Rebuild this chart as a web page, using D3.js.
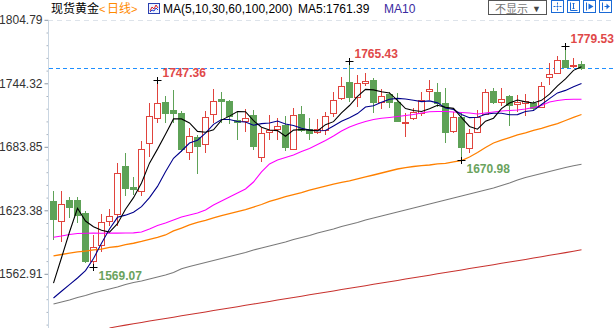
<!DOCTYPE html>
<html><head><meta charset="utf-8">
<script src="https://cdn.jsdelivr.net/npm/d3@7"></script>
<style>body{margin:0;background:#fff;overflow:hidden}svg{display:block}</style>
</head><body>
<svg id="c" width="615" height="328"></svg>
<script>
// ---- data (daily candles, left to right) ----
const openP = [1632.2,1613.5,1633.2,1633.2,1620.5,1575.4,1590.3,1613.2,1619.9,1665.6,1645.9,1642.2,1687.2,1711.0,1726.2,1718.9,1716.3,1678.6,1693.5,1686.5,1714.8,1729.1,1727.5,1709.8,1708.4,1714.1,1674.4,1697.7,1700.5,1704.6,1681.5,1715.1,1700.5,1697.7,1699.9,1715.7,1730.6,1745.3,1731.0,1744.3,1747.5,1726.2,1734.1,1726.8,1706.8,1711.0,1716.3,1737.0,1736.3,1725.9,1699.2,1711.9,1682.4,1697.7,1715.1,1737.0,1726.8,1732.2,1724.6,1725.9,1725.3,1722.0,1750.6,1754.4,1766.5,1760.8,1762.7];
const highP = [1641.8,1642.0,1636.3,1636.0,1623.0,1599.9,1620.3,1624.3,1668.1,1678.4,1655.1,1689.8,1725.9,1747.36,1732.2,1737.9,1717.9,1701.5,1695.1,1718.4,1738.6,1735.8,1728.4,1717.0,1719.6,1718.9,1701.5,1714.1,1711.0,1713.2,1720.5,1722.7,1711.0,1710.0,1717.3,1736.0,1750.6,1765.43,1752.2,1753.8,1749.1,1738.6,1736.0,1735.4,1715.7,1720.8,1736.3,1747.5,1744.9,1739.8,1717.3,1717.0,1700.5,1718.9,1738.6,1739.8,1739.8,1733.2,1733.2,1734.1,1727.5,1745.8,1763.4,1770.3,1779.53,1768.1,1765.6];
const lowP = [1596.0,1593.5,1617.3,1612.2,1574.1,1569.07,1583.7,1608.0,1608.4,1637.9,1638.9,1637.0,1674.4,1706.2,1707.7,1707.7,1680.3,1671.3,1659.2,1677.5,1706.2,1707.7,1706.2,1691.3,1698.2,1681.5,1669.7,1690.3,1690.3,1680.8,1680.8,1698.9,1691.3,1696.0,1695.1,1712.2,1728.4,1727.7,1722.0,1741.7,1716.7,1719.8,1721.5,1708.4,1693.5,1709.4,1713.2,1728.4,1722.7,1688.7,1696.7,1670.98,1678.2,1696.7,1714.1,1725.6,1722.7,1704.6,1717.3,1713.2,1720.3,1721.3,1742.7,1753.2,1759.8,1758.9,1758.4];
const closeP = [1615.4,1629.1,1626.8,1618.9,1575.4,1588.7,1611.8,1618.4,1658.6,1644.6,1643.6,1681.5,1713.2,1725.3,1715.7,1716.3,1681.5,1694.2,1684.9,1711.9,1727.8,1727.5,1713.2,1707.0,1711.0,1684.9,1696.7,1699.9,1703.9,1683.9,1714.1,1699.9,1696.7,1700.5,1713.5,1728.4,1741.8,1731.6,1744.3,1746.5,1726.2,1732.5,1726.2,1708.7,1707.7,1716.7,1728.4,1738.6,1725.3,1698.2,1711.9,1683.9,1696.7,1712.5,1736.3,1726.2,1729.1,1723.7,1726.5,1727.5,1721.1,1741.8,1752.9,1766.5,1760.3,1761.7,1758.6];

// moving averages whose first values depend on earlier (undrawn) days
const ma5Head = [1554.1,1578.2,1602.7,1625.3];
const ma10Head = [1539.9,1546.3,1552.6,1558.9,1565.9,1577.4,1592.0,1605.6,1616.7];
const ma30 = [1597.7,1598.9,1600.3,1601.3,1601.5,1601.6,1601.5,1601.7,1601.6,1601.8,1601.9,1602.7,1605.6,1608.9,1611.3,1614.1,1617.0,1618.9,1620.8,1623.7,1628.4,1632.2,1636.0,1639.9,1643.7,1650.3,1659.9,1667.5,1671.3,1673.7,1676.0,1679.4,1682.2,1686.0,1689.9,1694.1,1698.9,1702.7,1705.6,1707.9,1709.9,1711.0,1711.8,1712.7,1713.7,1714.6,1716.0,1717.3,1717.5,1717.5,1717.0,1716.5,1716.0,1715.1,1716.0,1717.0,1717.9,1718.4,1718.9,1719.9,1721.3,1723.2,1726.5,1727.9,1728.9,1729.1,1729.1];
const ma60 = [1579.9,1581.3,1582.7,1583.7,1584.6,1585.6,1586.5,1588.0,1588.9,1590.8,1592.0,1593.7,1595.6,1597.5,1599.9,1603.7,1606.5,1609.4,1611.8,1613.7,1616.1,1618.4,1620.3,1622.2,1624.1,1626.5,1628.9,1631.8,1634.1,1636.5,1638.4,1640.3,1642.7,1644.6,1646.5,1648.4,1649.9,1651.3,1653.2,1655.1,1657.0,1658.9,1660.8,1662.7,1664.1,1665.1,1666.0,1666.5,1667.5,1668.1,1669.4,1670.8,1674.1,1678.4,1683.2,1687.5,1690.3,1692.7,1695.1,1697.0,1699.4,1701.3,1703.7,1706.0,1708.9,1711.8,1714.6];
const ma100 = [1534.2,1536.1,1538.0,1540.3,1542.3,1544.6,1546.5,1548.4,1550.3,1552.7,1554.6,1556.1,1558.0,1559.9,1561.8,1564.2,1567.8,1569.9,1571.8,1573.7,1575.6,1577.5,1579.4,1581.3,1583.2,1585.6,1587.5,1589.4,1591.3,1593.2,1595.6,1597.5,1599.4,1601.8,1603.7,1605.6,1608.0,1609.9,1611.8,1614.1,1616.1,1618.0,1619.9,1621.8,1623.7,1625.6,1627.5,1629.4,1631.3,1633.2,1635.1,1637.0,1638.9,1640.8,1642.7,1644.6,1647.0,1649.4,1652.2,1654.6,1656.5,1658.4,1660.3,1662.2,1664.1,1665.8,1667.2];
const ma200 = [null,null,null,null,null,null,null,1511.3,1512.8,1514.0,1515.3,1516.6,1517.9,1519.1,1520.4,1521.6,1522.9,1524.1,1525.4,1526.6,1527.9,1529.1,1530.4,1531.6,1532.9,1534.1,1535.4,1536.6,1537.9,1539.1,1540.4,1541.6,1542.9,1544.1,1545.4,1546.6,1547.9,1549.1,1550.4,1551.6,1552.9,1554.1,1555.4,1556.6,1557.9,1559.1,1560.4,1561.6,1562.9,1564.1,1565.4,1566.6,1567.9,1569.1,1570.4,1571.6,1572.9,1574.1,1575.4,1576.6,1577.9,1579.2,1580.5,1581.8,1583.1,1584.4,1585.8];

const yTicks = [1562.91,1623.38,1683.85,1744.32,1804.79];
const highMarks = [13,37,64];
const lowMarks = [5,51];
const titleText = "现货黄金";
const periodText = "日线";
const maTitle = "MA(5,10,30,60,100,200)";
const ma5Label = "MA5:1761.39";
const ma10Label = "MA10";

// ---- derived MAs ----
function movingAvg(n, head){
  return closeP.map((c,i)=> i < n-1 ? head[i] : d3.mean(closeP.slice(i-n+1,i+1)));
}
const ma5 = movingAvg(5, ma5Head);
const ma10 = movingAvg(10, ma10Head);

const svg = d3.select('#c');
const N = closeP.length;
const x = d3.scaleLinear().domain([0, N-1]).range([53.5, 581.5]);
const y = d3.scaleLinear().domain([1562.91, 1804.79]).range([273.8, 19.8]);
const axisX = 48;

svg.append('defs').append('clipPath').attr('id','plot')
  .append('rect').attr('x',axisX+0.5).attr('y',20).attr('width',615-axisX).attr('height',328-20);

// top dashed border
svg.append('line').attr('x1',axisX).attr('x2',615).attr('y1',20.5).attr('y2',20.5)
  .attr('stroke','#dde3ea').attr('stroke-dasharray','5,4');

// y axis
const minor = [];
for(let k=0;k<yTicks.length-1;k++){ for(let j=1;j<5;j++) minor.push(yTicks[k]+(yTicks[k+1]-yTicks[k])*j/5); }
minor.push(1562.91-12.094*1, 1562.91-12.094*2, 1562.91-12.094*3, 1562.91-12.094*4);
const gMinor = svg.append('g').attr('transform',`translate(${axisX+0.5},0)`)
  .call(d3.axisLeft(y).tickValues(minor).tickSize(2).tickFormat(''));
gMinor.select('.domain').remove();
gMinor.selectAll('line').attr('stroke','#aab4c0');
const gAxis = svg.append('g').attr('transform',`translate(${axisX+0.5},0)`)
  .call(d3.axisLeft(y).tickValues(yTicks).tickSize(4).tickPadding(2).tickFormat(d=>d.toFixed(2)));
gAxis.select('.domain').remove();
gAxis.selectAll('line').attr('stroke','#8a96a4');
gAxis.selectAll('text').attr('fill','#333').style('font-family','"Liberation Sans", Arial, sans-serif').style('font-size','12px');
svg.append('line').attr('x1',axisX+0.5).attr('x2',axisX+0.5).attr('y1',20).attr('y2',328)
  .attr('stroke','#c9d5e1');

// current price line
svg.append('line').attr('x1',axisX+1).attr('x2',615)
  .attr('y1',Math.round(y(closeP[N-1]))+0.5).attr('y2',Math.round(y(closeP[N-1]))+0.5)
  .attr('stroke','#1e8fff').attr('stroke-dasharray','4,3');

const plot = svg.append('g').attr('clip-path','url(#plot)');
const RED = '#e0433d', GREEN = '#5ea257';

// candles
const idx = d3.range(N);
const cg = plot.append('g');
idx.forEach(i=>{
  const o=openP[i], c=closeP[i], h=highP[i], l=lowP[i];
  const up = c >= o;
  const cx = x(i);
  const yt = Math.round(y(Math.max(o,c))), yb = Math.round(y(Math.min(o,c)));
  const yh = Math.round(y(h)), yl = Math.round(y(l));
  const col = up ? RED : GREEN;
  if(up){
    cg.append('line').attr('x1',cx).attr('x2',cx).attr('y1',yh).attr('y2',yt).attr('stroke',col);
    cg.append('line').attr('x1',cx).attr('x2',cx).attr('y1',yb+1).attr('y2',yl).attr('stroke',col);
    cg.append('rect').attr('x',cx-3).attr('y',yt+0.5).attr('width',6).attr('height',Math.max(yb-yt,1))
      .attr('fill','#fff').attr('stroke',col);
  } else {
    cg.append('line').attr('x1',cx).attr('x2',cx).attr('y1',yh).attr('y2',yl+1).attr('stroke',col);
    cg.append('rect').attr('x',cx-3.5).attr('y',yt).attr('width',7).attr('height',Math.max(yb-yt,1)+1)
      .attr('fill',col);
  }
});

// MA lines
const lineGen = arr => d3.line().defined(i=>arr[i]!=null).x(i=>x(i)).y(i=>y(arr[i]))(idx);
const maDefs = [
  [ma200,'#c8322e',1.1],[ma100,'#7a7a7a',1.1],[ma60,'#ff8000',1.3],[ma30,'#ff00ff',1.1],[ma10,'#00008b',1.1],[ma5,'#000000',1.1]
];
maDefs.forEach(([arr,col,w])=>{
  plot.append('path').attr('d',lineGen(arr)).attr('fill','none').attr('stroke',col).attr('stroke-width',w);
});

// high / low markers
const markFont = '"Liberation Sans", Arial, sans-serif';
function cross(cx,cy){
  plot.append('line').attr('x1',cx-4).attr('x2',cx+4).attr('y1',Math.round(cy)+0.5).attr('y2',Math.round(cy)+0.5).attr('stroke','#000');
  plot.append('line').attr('x1',cx).attr('x2',cx).attr('y1',Math.round(cy)-3).attr('y2',Math.round(cy)+4).attr('stroke','#000');
}
highMarks.forEach(i=>{
  const cy=y(highP[i]); cross(x(i),cy);
  plot.append('text').attr('x',x(i)+5).attr('y',cy-3).text(highP[i].toFixed(2))
    .attr('fill','#e04848').style('font-family',markFont).style('font-size','12px').style('font-weight','bold');
});
lowMarks.forEach(i=>{
  const cy=y(lowP[i]); cross(x(i),cy);
  plot.append('text').attr('x',x(i)+5).attr('y',cy+13).text(lowP[i].toFixed(2))
    .attr('fill','#6aa35e').style('font-family',markFont).style('font-size','12px').style('font-weight','bold');
});

// header
const cjk = '"Noto Sans CJK SC", sans-serif';
const lat = '"Liberation Sans", Arial, sans-serif';
svg.append('text').attr('x',51).attr('y',13).text(titleText).attr('fill','#000').style('font-family',cjk).style('font-size','12px');
svg.append('text').attr('x',99).attr('y',13).text('<').attr('fill','#ff8a00').style('font-family',lat).style('font-size','11px');
svg.append('text').attr('x',107).attr('y',13).text(periodText).attr('fill','#ff8a00').style('font-family',cjk).style('font-size','12px');
svg.append('text').attr('x',131).attr('y',13).text('>').attr('fill','#ff8a00').style('font-family',lat).style('font-size','11px');
// small MA icon
const ic = svg.append('g').attr('transform','translate(148,3)');
ic.append('rect').attr('x',0.5).attr('y',0.5).attr('width',11).attr('height',10).attr('fill','#eef3ff').attr('stroke','#2a3fb0');
ic.append('polyline').attr('points','2,8 4,4 6,6 8,2 10,5').attr('fill','none').attr('stroke','#e02020');
ic.append('polyline').attr('points','2,9 4,7 6,8 8,5 10,7').attr('fill','none').attr('stroke','#2040d0');
svg.append('text').attr('x',163).attr('y',13).text(maTitle).attr('fill','#000').style('font-family',lat).style('font-size','12px');
svg.append('text').attr('x',298).attr('y',13).text(ma5Label).attr('fill','#000').style('font-family',lat).style('font-size','12px');
svg.append('text').attr('x',384).attr('y',13).text(ma10Label).attr('fill','#3a2aa0').style('font-family',lat).style('font-size','12px');

// button
svg.append('rect').attr('x',488.5).attr('y',0.5).attr('width',58).attr('height',14).attr('fill','#fff').attr('stroke','#555');
svg.append('text').attr('x',495).attr('y',13).text('不显示').attr('fill','#777').style('font-family',cjk).style('font-size','11px');
svg.append('text').attr('x',532).attr('y',11.5).text('▼').attr('fill','#444').style('font-family',lat).style('font-size','9px');
// tool icons
const BL='#1a6ad6';
[551.5,567.5,583.5,599.5].forEach((bx,k)=>{
  const g=svg.append('g').attr('transform',`translate(${bx},0.5)`);
  g.append('rect').attr('width',12).attr('height',12).attr('fill','#fff').attr('stroke',BL);
  if(k===0){
    g.append('path').attr('d','M6,2V10M2,6H10').attr('stroke',BL).attr('stroke-dasharray','2,1');
  } else if(k===1){
    g.append('path').attr('d','M3,2V10H10M6,3V8M5,3H7M5,8H7').attr('stroke',BL).attr('fill','none');
  } else if(k===2){
    g.append('path').attr('d','M3,2V10').attr('stroke',BL);
    g.append('path').attr('d','M5,3L10,6L5,9Z').attr('fill',BL);
  } else {
    g.append('path').attr('d','M3,2V10M5,6H10').attr('stroke',BL);
    g.append('path').attr('d','M7,3L10,6L7,9Z').attr('fill',BL);
  }
});
</script>
</body></html>
